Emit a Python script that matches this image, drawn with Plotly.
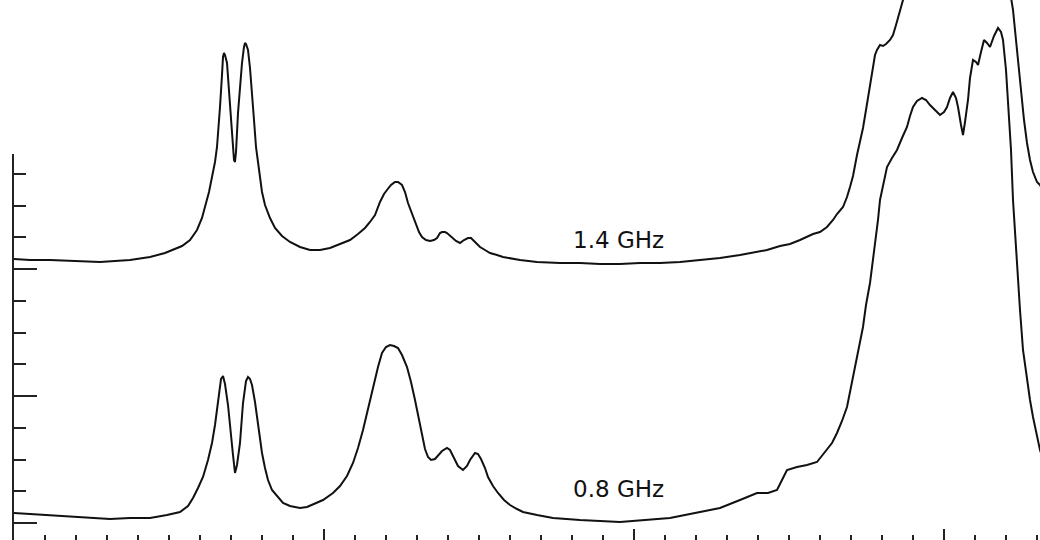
import plotly.graph_objects as go

# Frequency channel (arbitrary units) and displayed intensity (arbitrary units)
ch_08 = [14, 30, 50, 70, 90, 110, 130, 150, 167, 180, 188, 193, 198, 203, 208, 212, 215, 217, 219, 221,
         223, 225, 228, 230, 233, 235, 237, 240, 243, 246, 248, 250, 252, 255, 257, 260, 262, 265, 268, 272,
         277, 283, 290, 300, 307, 317, 323, 333, 340, 347, 353, 358, 363, 368, 373, 378, 382, 386, 390, 394,
         398, 402, 407, 411, 415, 419, 422, 425, 428, 431, 435, 439, 442, 447, 450, 454, 458, 463, 467, 470,
         475, 478, 481, 485, 488, 493, 498, 504, 510, 517, 523, 537, 553, 580, 600, 620, 645, 670, 695, 720,
         740, 757, 768, 777, 782, 787, 797, 807, 817, 827, 832, 837, 842, 847, 851, 855, 859, 863, 866, 870,
         873, 875, 878, 880, 884, 887, 892, 897, 902, 907, 910, 913, 917, 922, 926, 930, 935, 940, 944, 947,
         950, 953, 956, 958, 961, 963, 965, 968, 970, 973, 976, 978, 981, 984, 987, 990, 994, 998, 1001, 1003,
         1006, 1008, 1011, 1013, 1016, 1018, 1020, 1023, 1027, 1030, 1033, 1037, 1040, 1045]
int_08 = [10, 9, 8, 7, 5, 4, 5, 5, 8, 11, 17, 25, 35, 46, 63, 80, 98, 113, 130, 144,
          147, 139, 118, 96, 68, 50, 58, 80, 120, 142, 146, 144, 138, 121, 106, 86, 70, 55, 43, 33,
          27, 20, 17, 15, 16, 20, 23, 30, 37, 47, 60, 75, 93, 114, 136, 156, 170, 176, 178, 177,
          175, 168, 156, 141, 123, 103, 86, 74, 66, 63, 64, 68, 72, 75, 73, 65, 57, 53, 57, 63,
          70, 69, 64, 55, 46, 37, 30, 23, 18, 14, 11, 8, 5, 3, 2, 1, 3, 5, 10, 15,
          23, 30, 30, 33, 43, 53, 56, 58, 61, 73, 80, 90, 102, 116, 135, 156, 176, 196, 218, 240,
          263, 280, 303, 323, 343, 356, 365, 373, 385, 396, 407, 416, 422, 425, 423, 418, 413, 408, 411, 416,
          425, 431, 425, 416, 398, 388, 401, 423, 445, 463, 461, 458, 471, 483, 480, 476, 487, 495, 491, 483,
          453, 423, 373, 323, 273, 243, 213, 173, 143, 123, 106, 88, 73, 58]

ch_14 = [14, 30, 50, 70, 100, 130, 150, 165, 173, 182, 190, 197, 202, 206, 209, 212, 215, 217, 219, 220,
         222, 223, 224, 225, 227, 229, 230, 232, 234, 235, 236, 238, 240, 242, 244, 245, 246, 248, 250, 252,
         254, 256, 258, 260, 262, 265, 270, 275, 282, 290, 300, 310, 320, 330, 340, 350, 358, 365, 370, 375,
         380, 384, 387, 391, 395, 398, 402, 405, 408, 412, 415, 419, 422, 426, 430, 434, 437, 440, 442, 445,
         447, 450, 452, 456, 460, 464, 468, 471, 473, 477, 480, 485, 490, 497, 503, 520, 537, 560, 580, 600,
         620, 640, 660, 680, 700, 720, 740, 767, 780, 790, 800, 813, 820, 827, 833, 837, 843, 847, 850, 853,
         857, 860, 863, 866, 870, 873, 875, 877, 880, 883, 886, 890, 893, 896, 900, 903, 910, 930, 960, 990,
         1005, 1010, 1013, 1016, 1020, 1024, 1027, 1030, 1033, 1037, 1040, 1045]
int_14 = [264, 263, 263, 262, 261, 263, 266, 270, 273, 277, 283, 293, 305, 319, 331, 346, 361, 376, 398, 416,
          448, 466, 470, 468, 460, 433, 410, 383, 363, 361, 371, 410, 438, 460, 476, 480, 479, 473, 455, 433,
          403, 376, 358, 346, 331, 318, 305, 295, 287, 281, 276, 273, 273, 275, 279, 283, 289, 295, 301, 308,
          321, 329, 333, 338, 341, 341, 338, 331, 320, 309, 300, 291, 286, 283, 282, 283, 285, 290, 291, 291,
          290, 287, 286, 282, 280, 283, 285, 285, 283, 279, 276, 273, 270, 268, 266, 263, 261, 260, 260, 259,
          259, 260, 260, 261, 263, 265, 268, 273, 277, 279, 283, 289, 291, 296, 303, 309, 316, 326, 336, 347,
          368, 380, 395, 413, 438, 458, 468, 473, 478, 477, 479, 483, 488, 498, 513, 523, 563, 613, 653, 613,
          563, 533, 513, 483, 440, 403, 380, 363, 351, 341, 338, 330]

labels = ["1.4 GHz", "0.8 GHz"]
label_pos_x = [618, 618]
label_pos_y = [283, 34]

fig = go.Figure()
fig.add_trace(go.Scatter(x=ch_14, y=int_14, mode="lines",
                         line=dict(color="#111111", width=2), hoverinfo="skip", showlegend=False))
fig.add_trace(go.Scatter(x=ch_08, y=int_08, mode="lines",
                         line=dict(color="#111111", width=2), hoverinfo="skip", showlegend=False))
# empty trace so the intensity scale axis is drawn
fig.add_trace(go.Scatter(x=[], y=[], yaxis="y2", mode="lines", hoverinfo="skip", showlegend=False))

for t, lx, ly in zip(labels, label_pos_x, label_pos_y):
    fig.add_annotation(x=lx, y=ly, text=t, showarrow=False,
                       font=dict(family="DejaVu Sans, Arial, sans-serif", size=23, color="#111111"))

fig.update_layout(
    width=1040, height=540,
    margin=dict(l=14, r=0, t=0, b=0),
    paper_bgcolor="white", plot_bgcolor="rgba(0,0,0,0)",
    xaxis=dict(range=[14, 1040], showgrid=False, zeroline=False, showline=False,
               showticklabels=False, ticks="inside", tick0=14, dtick=310, ticklen=11,
               tickwidth=1.5, tickcolor="#222222",
               minor=dict(ticks="inside", tick0=14, dtick=31, ticklen=5, tickwidth=1.5,
                          tickcolor="#222222", showgrid=False)),
    yaxis=dict(range=[-17, 523], domain=[0, 1], visible=False, fixedrange=True),
    yaxis2=dict(range=[-17, 369], domain=[0, 386 / 540], anchor="x", showgrid=False,
                zeroline=False, showline=True, linecolor="#222222", linewidth=1.5,
                showticklabels=False, ticks="inside", tick0=0, dtick=127, ticklen=23,
                tickwidth=1.5, tickcolor="#222222",
                minor=dict(ticks="inside", tick0=0, dtick=31.75, ticklen=12, tickwidth=1.5,
                           tickcolor="#222222", showgrid=False)),
)

fig.write_html("out.html", config={"displayModeBar": False},
               post_script="document.body.style.margin='0';document.body.style.overflow='hidden';")
